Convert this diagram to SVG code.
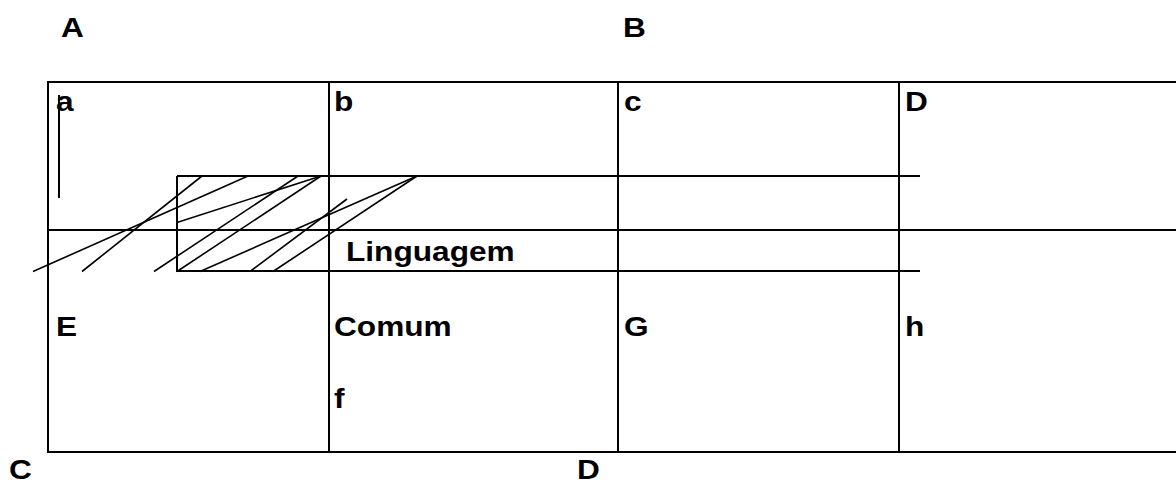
<svg xmlns="http://www.w3.org/2000/svg" width="1176" height="487" viewBox="0 0 1176 487">
<style>
.ln{stroke:#000;stroke-width:2;fill:none;stroke-linecap:butt}
.h{stroke:#000;stroke-width:1.6;fill:none}
.t{font-family:"Liberation Sans",Arial,sans-serif;font-weight:bold;font-size:28px;fill:#000}
</style>
<rect width="1176" height="487" fill="#fff"/>
<g id="grid">
<line class="ln" x1="47" y1="82" x2="1176" y2="82"/>
<line class="ln" x1="47" y1="452" x2="1176" y2="452"/>
<line class="ln" x1="48" y1="230" x2="1176" y2="230"/>
<line class="ln" x1="177" y1="176" x2="920" y2="176"/>
<line class="ln" x1="177" y1="271" x2="920" y2="271"/>
<line class="ln" x1="48" y1="81" x2="48" y2="453"/>
<line class="ln" x1="329" y1="81" x2="329" y2="453"/>
<line class="ln" x1="618" y1="81" x2="618" y2="453"/>
<line class="ln" x1="899" y1="81" x2="899" y2="453"/>
<line class="ln" x1="177" y1="176" x2="177" y2="272"/>
<line class="ln" x1="59" y1="95" x2="59" y2="198"/>
</g>
<g id="hatch">
<line class="h" x1="82" y1="271.5" x2="202" y2="176"/>
<line class="h" x1="33" y1="271.5" x2="248" y2="176"/>
<line class="h" x1="177" y1="222.5" x2="321" y2="176"/>
<line class="h" x1="154" y1="271.5" x2="298" y2="176"/>
<line class="h" x1="177" y1="271.5" x2="321" y2="176"/>
<line class="h" x1="200" y1="271.5" x2="417" y2="176"/>
<line class="h" x1="250" y1="271.5" x2="347" y2="199"/>
<line class="h" x1="273" y1="271.5" x2="417" y2="176"/>
</g>
<g id="labels">
<text class="t" transform="translate(61,37) scale(1.13,1)">A</text>
<text class="t" transform="translate(623,37) scale(1.13,1)">B</text>
<text class="t" transform="translate(56,111) scale(1.13,1)">a</text>
<text class="t" transform="translate(334,111) scale(1.13,1)">b</text>
<text class="t" transform="translate(624,111) scale(1.13,1)">c</text>
<text class="t" transform="translate(905,111) scale(1.13,1)">D</text>
<text class="t" transform="translate(346,261) scale(1.13,1)">Linguagem</text>
<text class="t" transform="translate(56,336) scale(1.13,1)">E</text>
<text class="t" transform="translate(334,336) scale(1.13,1)">Comum</text>
<text class="t" transform="translate(624,336) scale(1.13,1)">G</text>
<text class="t" transform="translate(905,336) scale(1.13,1)">h</text>
<text class="t" transform="translate(334,408) scale(1.13,1)">f</text>
<text class="t" transform="translate(9,479) scale(1.13,1)">C</text>
<text class="t" transform="translate(577,479) scale(1.13,1)">D</text>
</g>
</svg>
